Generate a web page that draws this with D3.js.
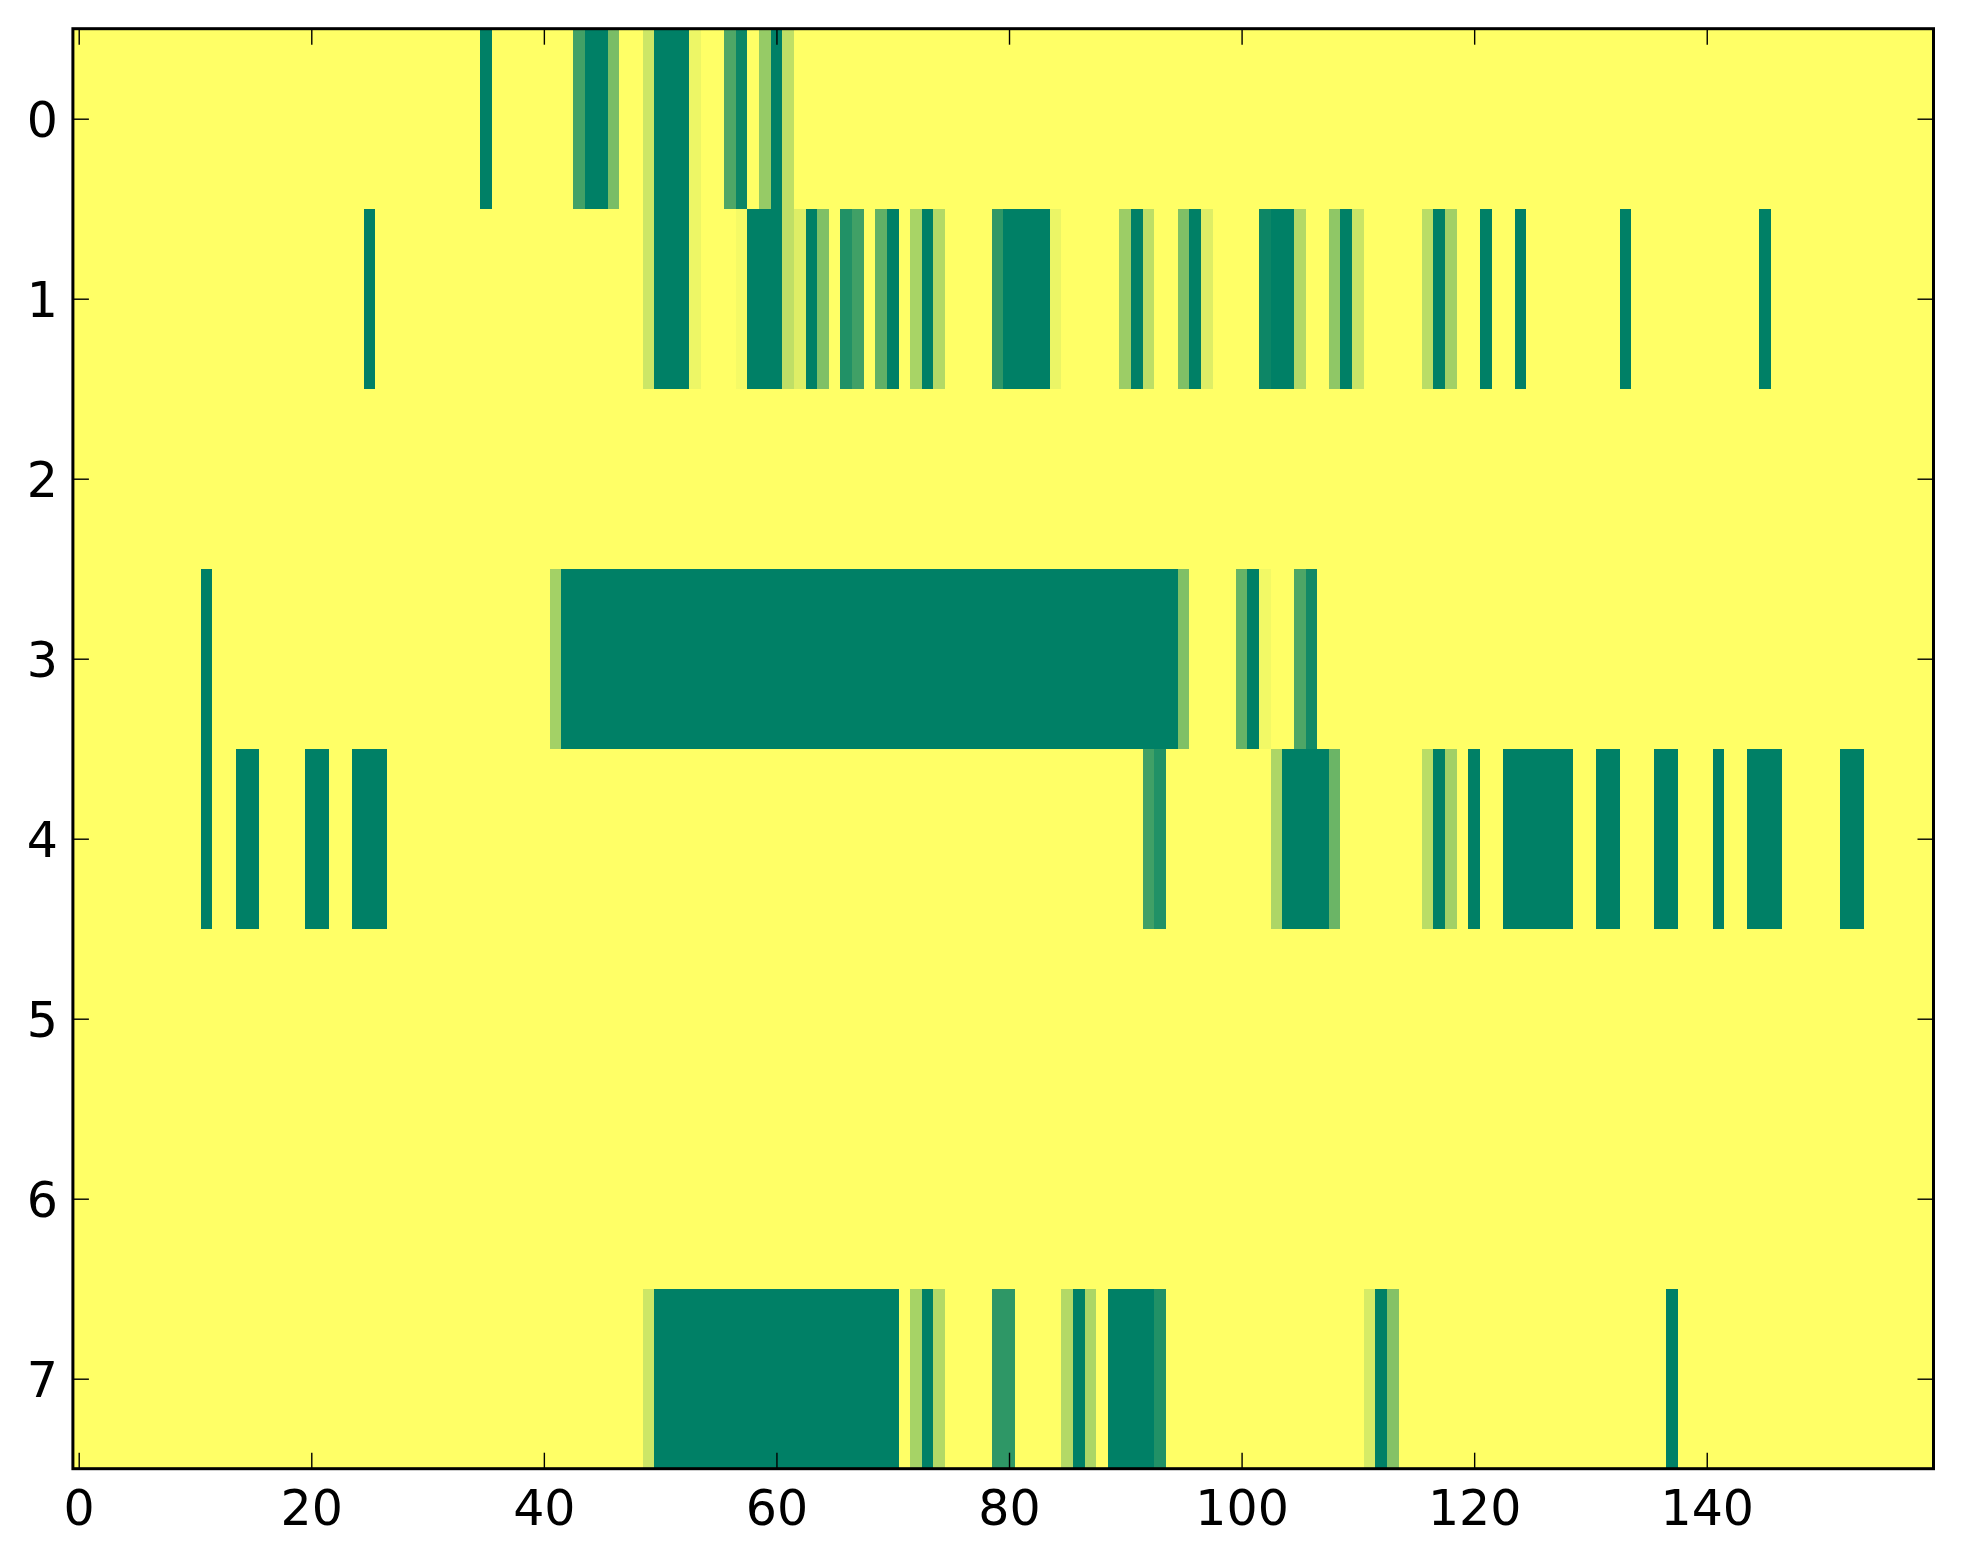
<!DOCTYPE html>
<html>
<head>
<meta charset="utf-8">
<script src="https://cdn.jsdelivr.net/npm/d3@7"></script>
<style>
  html, body { margin: 0; padding: 0; background: #ffffff; }
  svg { display: block; }
</style>
</head>
<body>
<script>
// ---- Data ----
const nCols = 160;
const rowLabels = [0, 1, 2, 3, 4, 5, 6, 7];
const xTickValues = [0, 20, 40, 60, 80, 100, 120, 140];
const yTickValues = [0, 1, 2, 3, 4, 5, 6, 7];

// Each row: runs of non-zero cells as [firstCol, lastCol, value]; all other cells are 0.
const row0 = [[35,35,1],[43,43,0.74],[44,45,1],[46,46,0.52],[49,49,0.2],[50,52,1],[53,53,0.07],
  [56,56,0.69],[57,57,0.95],[59,59,0.41],[60,60,1],[61,61,0.25]];
const row1 = [[25,25,1],[49,49,0.2],[50,52,1],[53,53,0.07],[57,57,0.04],[58,60,1],[61,61,0.25],
  [62,62,0.13],[63,63,1],[64,64,0.5],[66,66,0.87],[67,67,0.75],[69,69,0.62],[70,70,1],
  [72,72,0.34],[73,73,1],[74,74,0.3],[79,79,0.81],[80,83,1],[84,84,0.08],[90,90,0.39],
  [91,91,1],[92,92,0.26],[95,95,0.5],[96,96,1],[97,97,0.13],[102,102,0.95],[103,104,1],
  [105,105,0.3],[108,108,0.44],[109,109,1],[110,110,0.21],[116,116,0.27],[117,117,1],
  [118,118,0.37],[121,121,1],[124,124,1],[133,133,1],[145,145,1]];
const row2 = [];
const row3 = [[11,11,1],[41,41,0.36],[42,94,1],[95,95,0.5],[100,100,0.6],[101,101,1],
  [102,102,0.05],[105,105,0.7],[106,106,0.93]];
const row4 = [[11,11,1],[14,15,1],[20,21,1],[24,26,1],[92,92,0.75],[93,93,0.87],[103,103,0.32],
  [104,107,1],[108,108,0.58],[116,116,0.27],[117,117,1],[118,118,0.37],[120,120,1],
  [123,128,1],[131,132,1],[136,137,1],[141,141,1],[144,146,1],[152,153,1]];
const row5 = [];
const row6 = [];
const row7 = [[49,49,0.2],[50,70,1],[72,72,0.35],[73,73,1],[74,74,0.3],[79,80,0.82],
  [85,85,0.3],[86,86,1],[87,87,0.33],[89,92,1],[93,93,0.87],[111,111,0.16],[112,112,1],
  [113,113,0.48],[137,137,1]];
const rowRuns = [row0, row1, row2, row3, row4, row5, row6, row7];

(function draw() {
  // Build the cell table from the runs
  const cells = [];
  rowRuns.forEach((runs, r) => {
    const vals = new Array(nCols).fill(0);
    runs.forEach(([a, b, v]) => { for (let c = a; c <= b; c++) vals[c] = v; });
    vals.forEach((v, c) => cells.push({ row: rowLabels[r], col: c, value: v }));
  });

  // ---- Layout ----
  const W = 1963, H = 1564;
  const pL = 72.9, pR = 1933.5, pT = 28.7, pB = 1468.7;
  const fontSize = 49;
  const tickLen = 16;

  const svg = d3.select("body").append("svg")
    .attr("width", W).attr("height", H)
    .attr("viewBox", `0 0 ${W} ${H}`);

  svg.append("rect").attr("width", W).attr("height", H).attr("fill", "#ffffff");

  const x = d3.scaleLinear().domain([-0.5, nCols - 0.5]).range([pL, pR]);
  const y = d3.scaleLinear().domain([-0.5, rowLabels.length - 0.5]).range([pT, pB]);
  const color = d3.scaleLinear().domain([0, 1]).range(["#ffff66", "#008066"]);

  svg.append("g").attr("shape-rendering", "crispEdges")
    .selectAll("rect").data(cells).join("rect")
    .attr("x", d => x(d.col - 0.5))
    .attr("y", d => y(d.row - 0.5))
    .attr("width", d => x(d.col + 0.5) - x(d.col - 0.5))
    .attr("height", d => y(d.row + 0.5) - y(d.row - 0.5))
    .attr("fill", d => color(d.value));

  function styleAxis(g) {
    g.select(".domain").remove();
    g.selectAll(".tick line").attr("stroke", "#000").attr("stroke-width", 1.4);
    g.selectAll(".tick text")
      .attr("fill", "#000")
      .attr("font-family", "'DejaVu Sans', sans-serif")
      .attr("font-size", fontSize);
  }

  // bottom axis
  const gx = svg.append("g").attr("transform", `translate(0,${pB})`)
    .call(d3.axisBottom(x).tickValues(xTickValues).tickSizeInner(-tickLen).tickSizeOuter(0).tickFormat(d3.format("d")));
  styleAxis(gx);
  gx.selectAll(".tick text").attr("y", 56.3).attr("dy", "0");

  // top axis (ticks only)
  const gt = svg.append("g").attr("transform", `translate(0,${pT})`)
    .call(d3.axisTop(x).tickValues(xTickValues).tickSizeInner(-tickLen).tickSizeOuter(0).tickFormat(""));
  styleAxis(gt);

  // left axis
  const gy = svg.append("g").attr("transform", `translate(${pL},0)`)
    .call(d3.axisLeft(y).tickValues(yTickValues).tickSizeInner(-tickLen).tickSizeOuter(0).tickFormat(d3.format("d")));
  styleAxis(gy);
  gy.selectAll(".tick text").attr("x", -15).attr("dy", "0.357em").attr("text-anchor", "end");

  // right axis (ticks only)
  const gr = svg.append("g").attr("transform", `translate(${pR},0)`)
    .call(d3.axisRight(y).tickValues(yTickValues).tickSizeInner(-tickLen).tickSizeOuter(0).tickFormat(""));
  styleAxis(gr);

  // frame
  svg.append("rect")
    .attr("x", pL).attr("y", pT)
    .attr("width", pR - pL).attr("height", pB - pT)
    .attr("fill", "none").attr("stroke", "#000").attr("stroke-width", 3);
})();
</script>
</body>
</html>
